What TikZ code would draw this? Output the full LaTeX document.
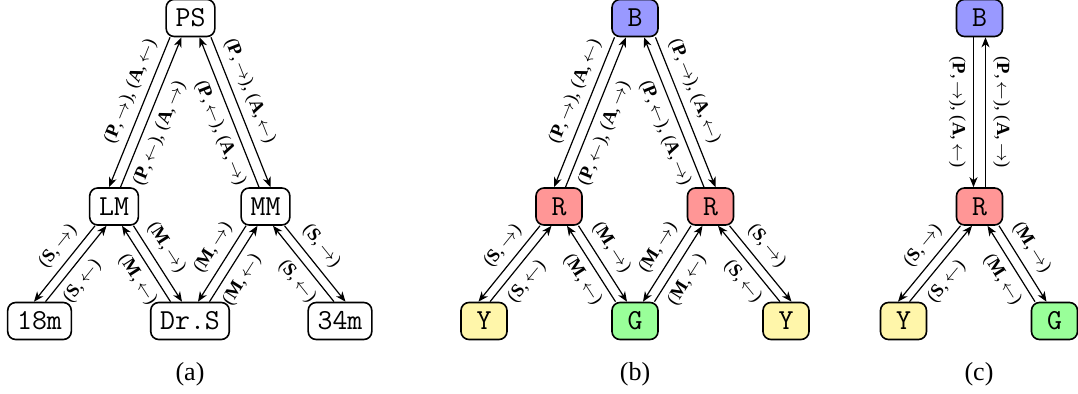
\documentclass[tikz,border=0pt]{standalone}
\usepackage{fontspec}
\setmainfont{Liberation Serif}
\usetikzlibrary{arrows.meta}
\definecolor{cB}{RGB}{153,153,255}
\definecolor{cR}{RGB}{255,150,150}
\definecolor{cY}{RGB}{255,246,170}
\definecolor{cG}{RGB}{153,255,153}
\newcommand{\lblPo}{(\textbf{P},\,$\rightarrow$),\ (\textbf{A},\,$\leftarrow$)}
\newcommand{\lblPi}{(\textbf{P},\,$\leftarrow$),\ (\textbf{A},\,$\rightarrow$)}
\newcommand{\lblSo}{(\textbf{S},\,$\rightarrow$)}
\newcommand{\lblSi}{(\textbf{S},\,$\leftarrow$)}
\newcommand{\lblMo}{(\textbf{M},\,$\rightarrow$)}
\newcommand{\lblMi}{(\textbf{M},\,$\leftarrow$)}
% left-going pair: top, bottom, top shift, bottom shift, outer label, inner label
\newcommand{\lpair}[6]{%
  \draw[edge] ([xshift=#3]#1.south) -- node[lab,above]{#5} ([xshift=#4]#2.north);
  \draw[edge] ([xshift=#4+5.75pt]#2.north) -- node[lab,below]{#6} ([xshift=#3+5.75pt]#1.south);}
\newcommand{\rpair}[6]{%
  \draw[edge] ([xshift=#3]#1.south) -- node[lab,above]{#5} ([xshift=#4]#2.north);
  \draw[edge] ([xshift=#4-5.75pt]#2.north) -- node[lab,below]{#6} ([xshift=#3-5.75pt]#1.south);}
\begin{document}
\begin{tikzpicture}[x=0.5pt,y=-0.5pt,
  box/.style={draw, line width=0.8pt, rounded corners=4pt, minimum width=23pt,
    minimum height=18.5pt, inner xsep=4.7pt, inner ysep=0pt,
    font=\ttfamily\fontsize{14.5}{16}\selectfont},
  edge/.style={line width=0.6pt, -{Stealth[length=5pt,width=4pt,inset=1.5pt]}},
  lab/.style={font=\fontsize{9.3}{10}\selectfont, sloped, inner sep=3.5pt, pos=0.4},
  vlab/.style={font=\fontsize{9.3}{10}\selectfont, rotate=-90, inner sep=3.5pt, midway},
  captxt/.style={font=\fontsize{13}{15}\selectfont}]
\useasboundingbox (0,0) rectangle (1078,394);
% (a)
\node[box] (PS) at (190.5,18) {PS};
\node[box] (LM) at (114,206.5) {LM};
\node[box] (MM) at (265.5,206.5) {MM};
\node[box] (n18) at (39.5,321) {18m};
\node[box] (DrS) at (190,321) {Dr.S};
\node[box] (n34) at (340,321) {34m};
\lpair{PS}{LM}{-10.25pt}{-2.5pt}{\lblPo}{\lblPi}
\rpair{PS}{MM}{10.25pt}{2.5pt}{\lblPo}{\lblPi}
\lpair{LM}{n18}{-9.5pt}{-2.75pt}{\lblSo}{\lblSi}
\rpair{LM}{DrS}{9.75pt}{-4pt}{\lblMo}{\lblMi}
\lpair{MM}{DrS}{-9.75pt}{4pt}{\lblMo}{\lblMi}
\rpair{MM}{n34}{9.5pt}{2.75pt}{\lblSo}{\lblSi}
\node[captxt] (capa) at (190,374) {(a)};
% (b)
\node[box, fill=cB] (B1) at (635,18) {B};
\node[box, fill=cR] (R1) at (559,206.5) {R};
\node[box, fill=cR] (R2) at (710.5,206.5) {R};
\node[box, fill=cY] (Y1) at (484,321) {Y};
\node[box, fill=cG] (G1) at (635,321) {G};
\node[box, fill=cY] (Y2) at (786,321) {Y};
\lpair{B1}{R1}{-10.25pt}{-2.5pt}{\lblPo}{\lblPi}
\rpair{B1}{R2}{10.25pt}{2.5pt}{\lblPo}{\lblPi}
\lpair{R1}{Y1}{-9.5pt}{-2.75pt}{\lblSo}{\lblSi}
\rpair{R1}{G1}{9.75pt}{-4pt}{\lblMo}{\lblMi}
\lpair{R2}{G1}{-9.75pt}{4pt}{\lblMo}{\lblMi}
\rpair{R2}{Y2}{9.5pt}{2.75pt}{\lblSo}{\lblSi}
\node[captxt] (capb) at (635,374) {(b)};
% (c)
\node[box, fill=cB] (B2) at (979.5,18) {B};
\node[box, fill=cR] (R3) at (979.5,206.5) {R};
\node[box, fill=cY] (Y3) at (903.5,321) {Y};
\node[box, fill=cG] (G2) at (1054.5,321) {G};
\draw[edge] ([xshift=-3pt]B2.south) -- node[vlab,anchor=north]{\lblPo} ([xshift=-3pt]R3.north);
\draw[edge] ([xshift=3pt]R3.north) -- node[vlab,anchor=south]{\lblPi} ([xshift=3pt]B2.south);
\lpair{R3}{Y3}{-9.5pt}{-2.75pt}{\lblSo}{\lblSi}
\rpair{R3}{G2}{9.75pt}{-4pt}{\lblMo}{\lblMi}
\node[captxt] (capc) at (979,374) {(c)};
\end{tikzpicture}
\end{document}
